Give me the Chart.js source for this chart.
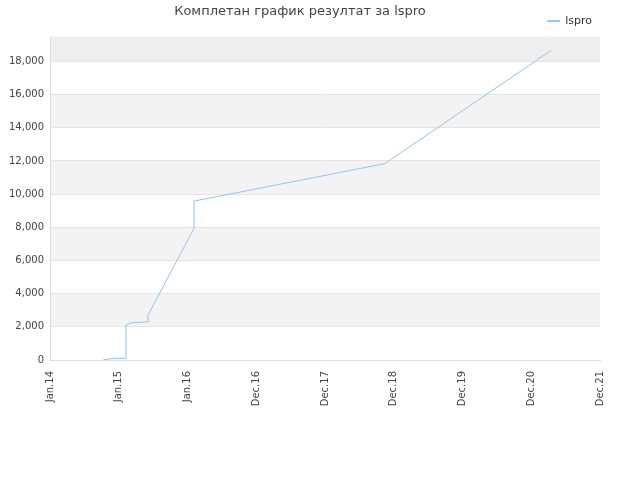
<!DOCTYPE html>
<html>
<head>
<meta charset="utf-8">
<script src="https://cdn.jsdelivr.net/npm/chart.js@4"></script>
<style>
    body { margin: 0; background: #fff; }
    #wrap { width: 640px; height: 480px; }
</style>
</head>
<body>
<div id="wrap"><canvas id="chart"></canvas></div>
<script>
// Tick labels along x (evenly spaced positions 0..8)
const xTickLabels = ['Jan.14', 'Jan.15', 'Jan.16', 'Dec.16', 'Dec.17', 'Dec.18', 'Dec.19', 'Dec.20', 'Dec.21'];
const yTicks = [0, 2000, 4000, 6000, 8000, 10000, 12000, 14000, 16000, 18000];
// Series points: x in tick-index units, y = result
const seriesX = [0.77, 0.92, 1.105, 1.105, 1.19, 1.425, 1.425, 2.095, 2.095, 4.87, 7.29];
const seriesY = [0, 100, 100, 2100, 2250, 2300, 2700, 7950, 9580, 11840, 18670];
const seriesName = 'lspro';

// Alternating horizontal bands
const bandPlugin = {
    id: 'bands',
    beforeDraw(chart) {
        const { ctx, chartArea, scales } = chart;
        const y = scales.y;
        ctx.save();
        ctx.fillStyle = '#f3f3f3';
        for (let v = 2000; v < 18000; v += 4000) {
            const top = v + 2000;
            ctx.fillRect(chartArea.left, y.getPixelForValue(top), chartArea.width,
                y.getPixelForValue(v) - y.getPixelForValue(top));
        }
        ctx.fillStyle = '#eeeeee';
        ctx.fillRect(chartArea.left, chartArea.top, chartArea.width,
            y.getPixelForValue(18000) - chartArea.top);
        ctx.restore();
    }
};

new Chart(document.getElementById('chart'), {
    type: 'line',
    data: {
        datasets: [{
            label: seriesName,
            data: seriesX.map((x, i) => ({ x: x, y: seriesY[i] })),
            borderColor: '#90c4f0',
            backgroundColor: '#90c4f0',
            borderWidth: 1,
            pointRadius: 0,
            tension: 0
        }]
    },
    options: {
        responsive: true,
        maintainAspectRatio: false,
        animation: false,
        layout: { padding: { right: 40, bottom: 0 } },
        plugins: {
            title: {
                display: true,
                text: 'Комплетан график резултат за lspro',
                color: '#444',
                font: { family: 'DejaVu Sans', size: 13, weight: 'normal' },
                padding: { top: 4, bottom: -12 }
            },
            legend: {
                display: true,
                align: 'end',
                labels: {
                    boxWidth: 12, boxHeight: 1,
                    padding: 8,
                    color: '#333',
                    font: { family: 'DejaVu Sans', size: 11 }
                }
            },
            tooltip: { enabled: false }
        },
        scales: {
            x: {
                type: 'linear',
                min: 0, max: 8,
                grid: { display: false },
                border: { color: '#ddd' },
                ticks: {
                    stepSize: 1,
                    maxRotation: 90, minRotation: 90,
                    color: '#444',
                    font: { family: 'DejaVu Sans', size: 10 },
                    callback: v => xTickLabels[v]
                },
                afterFit(s) { s.height = 120; }
            },
            y: {
                min: 0, max: 19500,
                grid: { color: '#e4e4e4', drawTicks: false },
                border: { color: '#ddd' },
                afterBuildTicks(s) { s.ticks = yTicks.map(v => ({ value: v })); },
                ticks: {
                    autoSkip: false,
                    padding: 6,
                    color: '#444',
                    font: { family: 'DejaVu Sans', size: 10 }
                },
                afterFit(s) { s.width = 50; }
            }
        }
    },
    plugins: [bandPlugin]
});
</script>
</body>
</html>
